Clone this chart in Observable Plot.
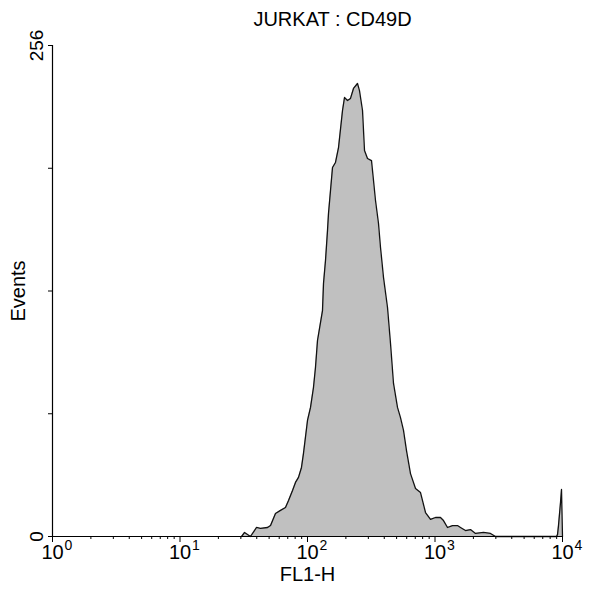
<!DOCTYPE html>
<html>
<head>
<meta charset="utf-8">
<script src="https://cdn.jsdelivr.net/npm/d3@7"></script>
<script src="https://cdn.jsdelivr.net/npm/@observablehq/plot@0.6"></script>
<style>
  html, body { margin: 0; padding: 0; background: #fff; }
  svg { display: block; }
</style>
</head>
<body>
<div id="chart"></div>
<script>
const title = "JURKAT : CD49D";
const xLabel = "FL1-H";
const yLabel = "Events";

// FL1-H channel values and event counts
const fl1 = [30.4, 32.1, 35.7, 39.8, 42.8, 48.6, 51.3, 56.1, 61.4, 67.2, 71.0, 76.3, 80.5, 85.0, 89.7, 93.0,
  100, 105.6, 111.4, 115.5, 119.8, 131.1, 133.5, 138.4, 143.5, 146.1, 151.5, 157.1, 165.8, 175.1, 188.2, 195.1,
  206.0, 217.4, 229.5, 246.7, 255.7, 270.1, 280.0, 295.5, 317.7, 329.4, 341.5, 360.5, 373.8, 394.7, 424.2, 447.8,
  472.7, 508.0, 536.3, 566.2, 597.7, 642.4, 703.4, 769.8, 842.5, 922.1, 1009, 1104, 1166, 1253, 1372, 1501,
  1585, 1735, 1898, 2078, 2401, 2725, 2982, 8973, 9138, 9303, 9646, 9822, 10000];
const events = [0, 2.1, 0, 4.7, 4.2, 4.7, 5.7, 12.0, 13.6, 15.1, 18.8, 24.0, 28.2, 30.8, 36.0, 43.3,
  60.5, 67.3, 77.7, 88.1, 102.2, 117.8, 131.9, 143.9, 159.5, 168.4, 180.4, 192.4, 195.0, 202.8, 222.1, 228.9,
  227.3, 228.4, 233.6, 236.2, 232.5, 222.1, 201.3, 197.1, 196.0, 185.6, 175.2, 163.2, 150.7, 135.0, 119.4, 100.6,
  79.8, 67.3, 62.0, 55.3, 44.8, 32.8, 25.0, 22.9, 12.5, 8.9, 9.9, 9.9, 8.3, 4.7, 5.7, 5.7,
  4.7, 3.1, 3.6, 1.6, 2.1, 1.6, 0, 0, 1.0, 5.7, 17.7, 24.5, 0];

const xMajor = [1, 10, 100, 1000, 10000];
const xExponent = ["0", "1", "2", "3", "4"];
const xMinor = [2,3,4,5,6,7,8,9, 20,30,40,50,60,70,80,90, 200,300,400,500,600,700,800,900,
  2000,3000,4000,5000,6000,7000,8000,9000];
const yTicks = [0, 64, 128, 192, 256];
const yTickLabels = [0, 256];

const data = fl1.map((x, i) => ({x, y: events[i]}));
const font = "'Liberation Sans', Arial, sans-serif";

const chart = Plot.plot({
  width: 592,
  height: 594,
  marginLeft: 52,
  marginRight: 30,
  marginTop: 45,
  marginBottom: 58,
  style: {fontFamily: font, fontSize: "19px", color: "#000", background: "#fff"},
  x: {type: "log", domain: [1, 10000], axis: null},
  y: {domain: [0, 256], axis: null},
  marks: [
    Plot.areaY(data, {x: "x", y: "y", fill: "#c0c0c0"}),
    Plot.lineY(data, {x: "x", y: "y", stroke: "#111", strokeWidth: 1.3}),
    Plot.ruleY([0], {stroke: "#000", strokeWidth: 1.2}),
    Plot.ruleX([1], {stroke: "#000", strokeWidth: 1.2}),
    Plot.axisY({ticks: yTicks, tickSize: 4, tickFormat: () => "", label: null, stroke: "#000"}),
    Plot.axisX({ticks: xMajor, tickSize: 6, tickFormat: () => "", label: null, stroke: "#000"}),
    Plot.axisX({ticks: xMinor, tickSize: 3, tickFormat: () => "", label: null, stroke: "#000"}),
    Plot.text(yTickLabels, {y: d => d, text: d => String(d), frameAnchor: "left", dx: -16,
      rotate: -90, textAnchor: "middle", fontSize: 19, fill: "#000"}),
    Plot.text(xMajor, {x: d => d, text: () => "10", frameAnchor: "bottom", lineAnchor: "top",
      dy: 8, textAnchor: "middle", fontSize: 20, fill: "#000"}),
    Plot.text(xMajor, {x: d => d, text: (d, i) => xExponent[i], frameAnchor: "bottom", lineAnchor: "top",
      dy: 4, dx: 12, textAnchor: "start", fontSize: 14, fill: "#000"}),
    Plot.text([xLabel], {frameAnchor: "bottom", lineAnchor: "top", dy: 30, text: d => d,
      fontSize: 20, fill: "#000"}),
    Plot.text([yLabel], {frameAnchor: "left", dx: -34, rotate: -90, text: d => d,
      textAnchor: "middle", fontSize: 20, fill: "#000"}),
    Plot.text([title], {frameAnchor: "top", lineAnchor: "bottom", dy: -20, dx: 25, text: d => d,
      fontSize: 20, fill: "#000"})
  ]
});
document.getElementById("chart").appendChild(chart);
</script>
</body>
</html>
